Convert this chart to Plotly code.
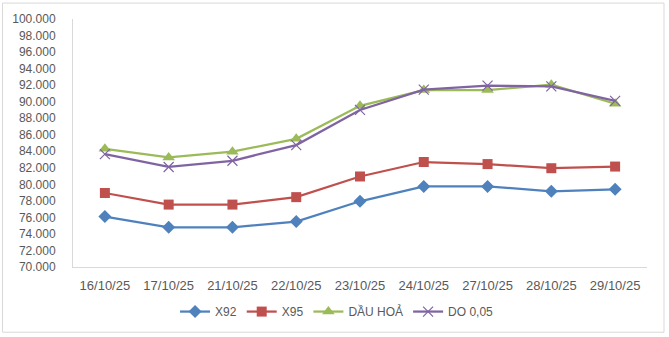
import plotly.graph_objects as go

categories = ["16/10/25", "17/10/25", "21/10/25", "22/10/25", "23/10/25",
              "24/10/25", "27/10/25", "28/10/25", "29/10/25"]
x92 = [76100, 74800, 74800, 75500, 77950, 79750, 79750, 79150, 79400]
x95 = [78950, 77550, 77550, 78450, 80950, 82700, 82450, 81950, 82150]
dau_hoa = [84300, 83250, 83950, 85500, 89500, 91400, 91400, 92050, 89750]
do005 = [83650, 82100, 82850, 84750, 89000, 91450, 91950, 91850, 90100]

series = [
    ("X92", x92, "#4F81BD", "diamond", 10),
    ("X95", x95, "#C0504D", "square", 10),
    ("DẦU HOẢ", dau_hoa, "#9BBB59", "triangle-up", 11),
    ("DO 0,05", do005, "#8064A2", "x-thin", 10),
]

fig = go.Figure()
for name, vals, color, sym, size in series:
    marker = dict(symbol=sym, size=size, color=color)
    if sym == "x-thin":
        marker["line"] = dict(color=color, width=1.2)
    fig.add_trace(go.Scatter(
        x=categories, y=vals, name=name, mode="lines+markers",
        line=dict(color=color, width=2.25), marker=marker,
    ))

fig.update_layout(
    width=669, height=337,
    margin=dict(l=73, r=22, t=19, b=69),
    paper_bgcolor="white", plot_bgcolor="white",
    separators=",.",
    font=dict(family="Liberation Sans, Arial, sans-serif", size=12, color="#595959"),
    showlegend=True,
    legend=dict(orientation="h", x=0.46, xanchor="center", y=-0.175, yanchor="middle",
                font=dict(size=12, color="#595959"), itemwidth=30,
                bgcolor="rgba(0,0,0,0)"),
    xaxis=dict(type="category", range=[-0.5, 8.5], showgrid=False,
               showline=True, linecolor="#D9D9D9", linewidth=1, ticks="",
               tickfont=dict(size=13, color="#595959"), ticklabelstandoff=6,
               fixedrange=True),
    yaxis=dict(range=[70000, 100000], dtick=2000, tickformat=",.0f",
               showgrid=False, showline=True, linecolor="#D9D9D9", linewidth=1,
               ticks="", tickfont=dict(size=12, color="#595959"),
               zeroline=False, ticklabelstandoff=14),
    shapes=[dict(type="rect", xref="paper", yref="paper",
                 x0=(2.5 - 73) / 574, x1=(664 - 73) / 574,
                 y0=(268 - 333.5) / 249, y1=(268 - 3) / 249,
                 line=dict(color="#D9D9D9", width=1), fillcolor="rgba(0,0,0,0)",
                 layer="below")],
)

fig.write_html("out.html")
